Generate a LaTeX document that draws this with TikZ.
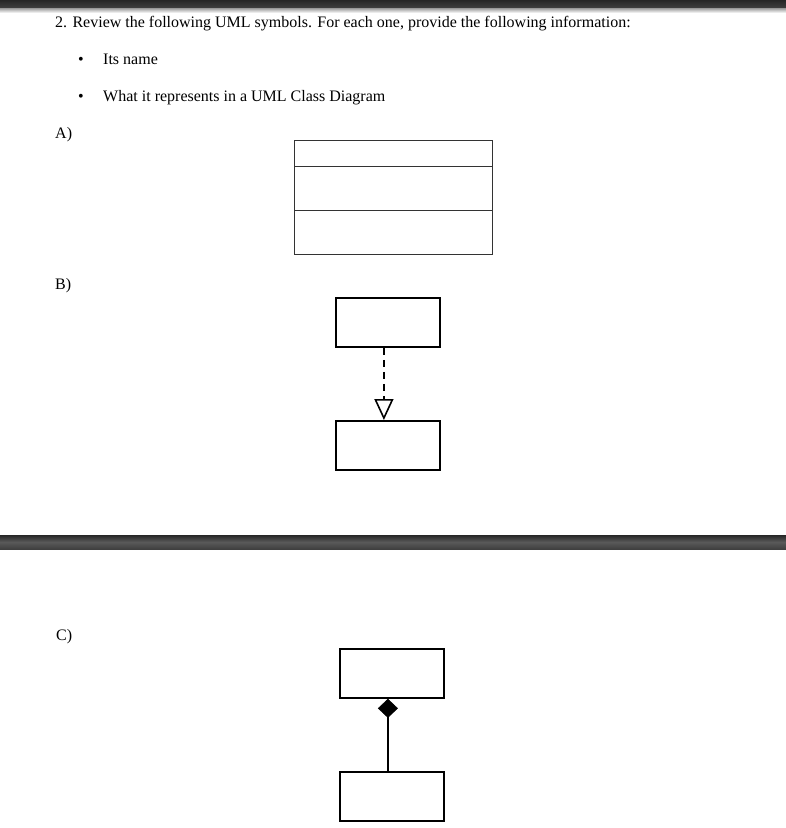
\documentclass[tikz,border=0pt]{standalone}
\usepackage{fontspec}
\setmainfont{Liberation Serif}
\usetikzlibrary{arrows.meta}

\begin{document}
\begin{tikzpicture}[x=1pt, y=-1pt, >=Stealth,
    txt/.style={anchor=base west, inner sep=0pt, font=\fontsize{16}{19}\selectfont},
    classbox/.style={draw=black!80, line width=1pt, anchor=north west, inner sep=0pt, minimum width=198pt},
    umlbox/.style={draw, line width=1.8pt, anchor=north west, inner sep=0pt, minimum width=104pt, minimum height=49pt},
    link/.style={line width=2pt}]
  \useasboundingbox (0,0) rectangle (786,828);

  % page bars
  \shade[top color=black!85, bottom color=black!75] (0,0) rectangle (786,8);
  \shade[top color=black!40, bottom color=white] (0,8) rectangle (786,13);
  \shade[top color=black!85, bottom color=black!75, middle color=black!65] (0,535) rectangle (786,549);

  % question text
  \node[txt] (title) at (55,27) {2. Review the following UML symbols. For each one, provide the following information:};
  \node[txt] (bul1) at (78,64) {\textbullet};
  \node[txt] (name) at (103,64) {Its name};
  \node[txt] (bul2) at (78,101) {\textbullet};
  \node[txt] (repr) at (103,101) {What it represents in a UML Class Diagram};

  % A) class box
  \node[txt] (labA) at (55,138) {A)};
  \node[classbox, minimum height=26pt] (cname) at (294,140) {};
  \node[classbox, minimum height=44pt] (cattr) at (294,166) {};
  \node[classbox, minimum height=44pt] (cops) at (294,210) {};

  % B) realization
  \node[txt] (labB) at (55,289) {B)};
  \node[umlbox] (iface) at (335,297) {};
  \node[umlbox] (impl) at (335,420) {};
  \draw[link, dash pattern=on 7pt off 5pt,
        -{Triangle[open, width=19pt, length=21pt, line width=1.6pt]}]
    ([xshift=-4pt]iface.south) -- ([xshift=-4pt]impl.north);

  % C) composition
  \node[txt] (labC) at (56,640) {C)};
  \node[umlbox] (whole) at (339,648) {};
  \node[umlbox] (part) at (339,771) {};
  \draw[link, {Diamond[fill=black, width=20pt, length=19pt, line width=0.5pt]}-]
    ([xshift=-4pt]whole.south) -- ([xshift=-4pt]part.north);
\end{tikzpicture}
\end{document}
